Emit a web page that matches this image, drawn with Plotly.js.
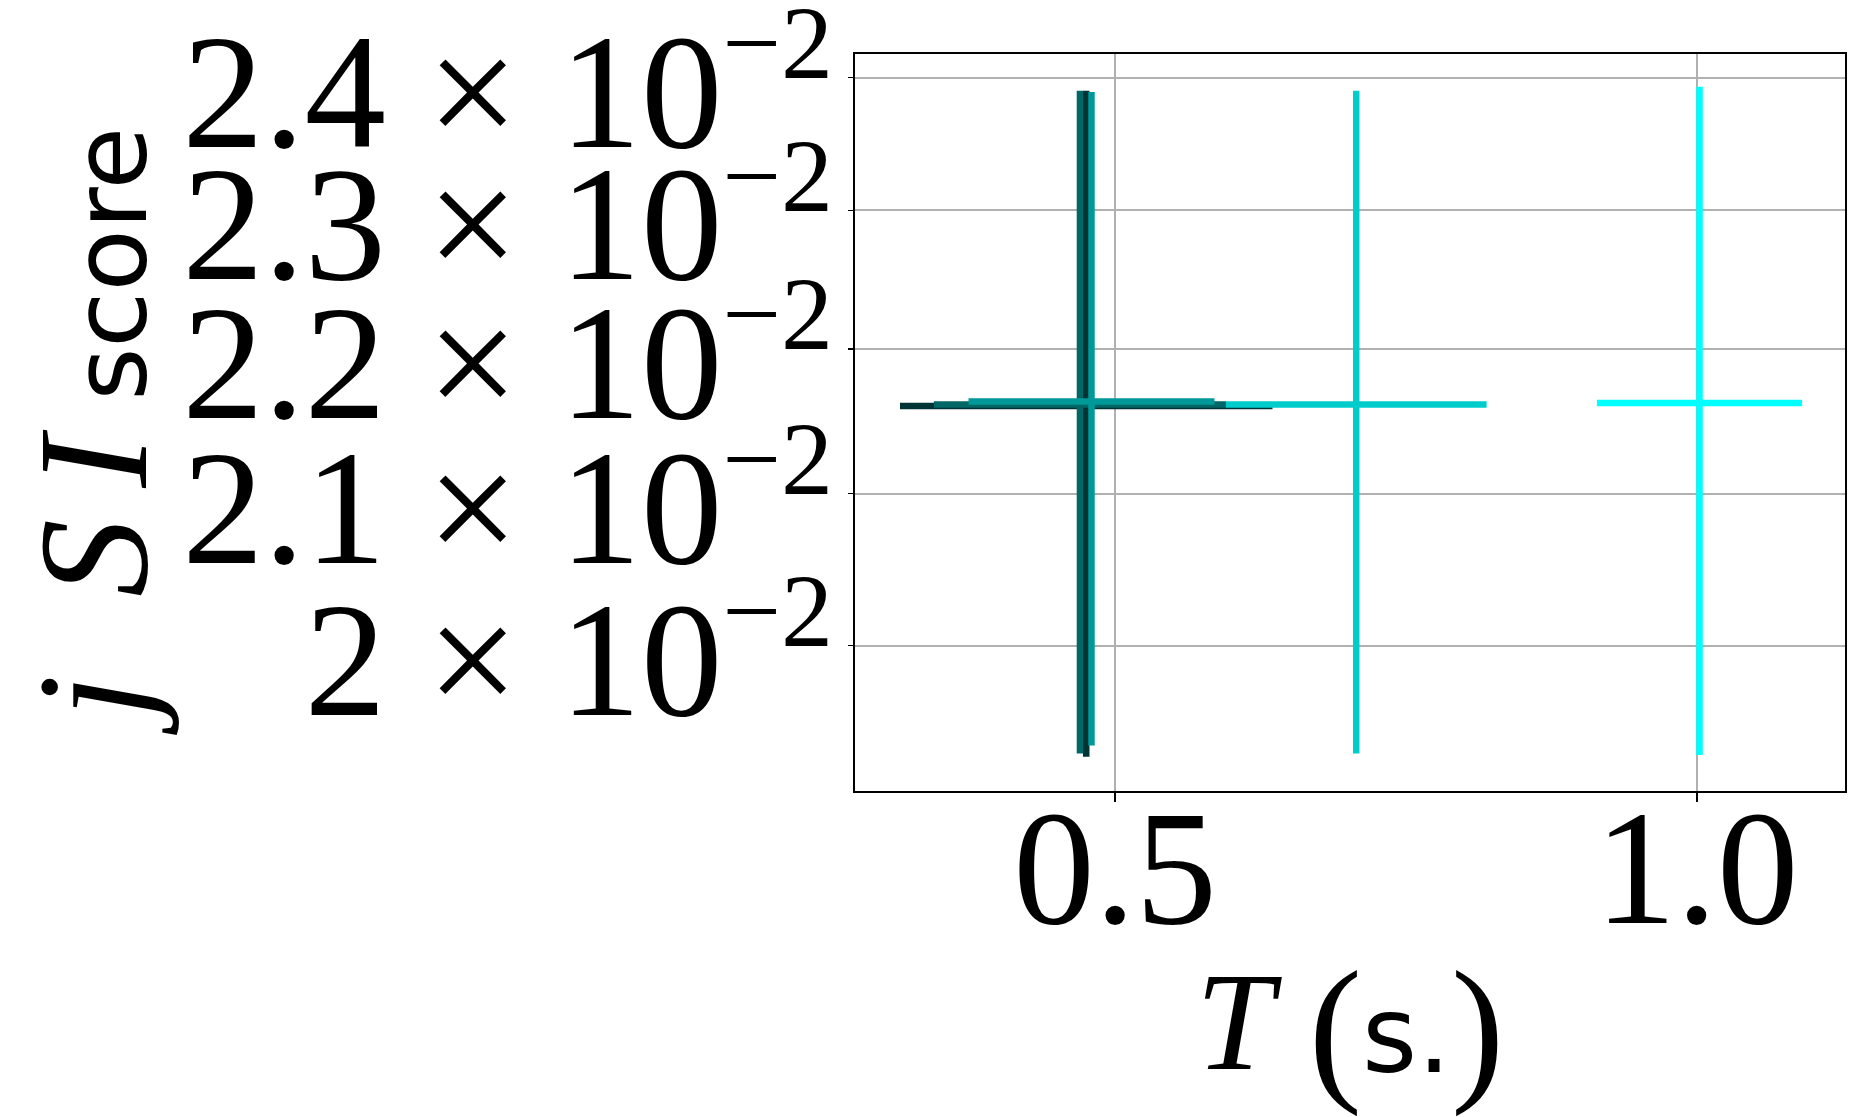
<!DOCTYPE html>
<html>
<head>
<meta charset="utf-8">
<script src="https://cdn.plot.ly/plotly-3.0.1.min.js"></script>
<style>
  html, body { margin: 0; padding: 0; background: #ffffff; }
  #chart { width: 1866px; height: 1117px; }
</style>
</head>
<body>
<div id="chart"></div>
<script>
// ---- data ----
const T_values   = [0.4752, 0.4698, 0.4797, 0.7073, 1.0024];   // T (s.)
const T_errors   = [0.1601, 0.1256, 0.1057, 0.1121, 0.0882];
const jsi_values = [0.02160, 0.02161, 0.02163, 0.02161, 0.02162]; // jSI score
const jsi_errors = [0.00230, 0.00229, 0.00226, 0.00229, 0.00231];

const y_tick_vals   = [0.020, 0.021, 0.022, 0.023, 0.024];
const y_tick_mantissa = ['2', '2.1', '2.2', '2.3', '2.4'];
const y_tick_labels = y_tick_mantissa.map(m =>
  m + " × 10<sup><span style='font-size:104px'>−2</span></sup>");
const x_tick_vals   = [0.5, 1.0];
const x_tick_labels = ['0.5', '1.0'];

// ---- styling ----
const seriesColors = ['#003333', '#006666', '#009999', '#00cccc', '#00ffff'];
const serif = 'Liberation Serif, DejaVu Serif, serif';
const barThickness = 6.5;

const traces = T_values.map((t, i) => ({
  type: 'scatter',
  mode: 'markers',
  x: [t],
  y: [jsi_values[i]],
  marker: { size: 1, opacity: 0, color: seriesColors[i] },
  error_x: { type: 'data', array: [T_errors[i]], symmetric: true, visible: true,
             color: seriesColors[i], thickness: barThickness, width: 0 },
  error_y: { type: 'data', array: [jsi_errors[i]], symmetric: true, visible: true,
             color: seriesColors[i], thickness: barThickness, width: 0 },
  showlegend: false,
  hoverinfo: 'skip'
}));

const xTitle =
  "<span style='font-size:140px;baseline-shift:18px'><i>T</i></span>" +
  "<span style='font-size:140px'> </span>" +
  "<span style='font-size:160px;baseline-shift:5px'>(</span>" +
  "<span style='font-family:DejaVu Sans;font-size:106px;baseline-shift:15px'>s.</span>" +
  "<span style='font-size:160px;baseline-shift:5px'>)</span>";

const yTitle =
  "<span style='font-size:156px;baseline-shift:34px'><i>j\u2002S\u2009I</i></span>" +
  "<span style='font-size:140px;baseline-shift:34px'> </span>" +
  "<span style='font-family:DejaVu Sans;font-size:102px;baseline-shift:34px'>score</span>";

const layout = {
  width: 1866,
  height: 1117,
  margin: { l: 855, r: 21, t: 54, b: 326, pad: 0 },
  paper_bgcolor: '#ffffff',
  plot_bgcolor: '#ffffff',
  showlegend: false,
  xaxis: {
    range: [0.27641, 1.12748],
    tickmode: 'array',
    tickvals: x_tick_vals,
    ticktext: x_tick_labels,
    ticks: 'outside',
    ticklen: 8.5,
    tickwidth: 2,
    tickcolor: '#000000',
    tickfont: { family: serif, size: 163, color: '#000000' },
    ticklabelstandoff: -74,
    ticklabeloverflow: 'allow',
    showgrid: true,
    gridcolor: '#b0b0b0',
    gridwidth: 2,
    zeroline: false,
    showline: true,
    mirror: true,
    linecolor: '#000000',
    linewidth: 2.3,
    automargin: false,
    title: {
      text: xTitle,
      font: { family: serif, size: 133, color: '#000000' }
    }
  },
  yaxis: {
    type: 'log',
    range: [-1.719225, -1.616484],
    tickmode: 'array',
    tickvals: y_tick_vals,
    ticktext: y_tick_labels,
    ticks: 'outside',
    ticklen: 5,
    tickwidth: 1.5,
    tickcolor: '#000000',
    tickfont: { family: serif, size: 163, color: '#000000' },
    ticklabelstandoff: -18,
    ticklabelshift: 12,
    ticklabeloverflow: 'allow',
    showgrid: true,
    gridcolor: '#b0b0b0',
    gridwidth: 2,
    zeroline: false,
    showline: true,
    mirror: true,
    linecolor: '#000000',
    linewidth: 2.3,
    automargin: false,
    title: {
      text: yTitle,
      font: { family: serif, size: 157, color: '#000000' }
    }
  }
};

Plotly.newPlot('chart', traces, layout, { staticPlot: true, displayModeBar: false });
</script>
</body>
</html>
